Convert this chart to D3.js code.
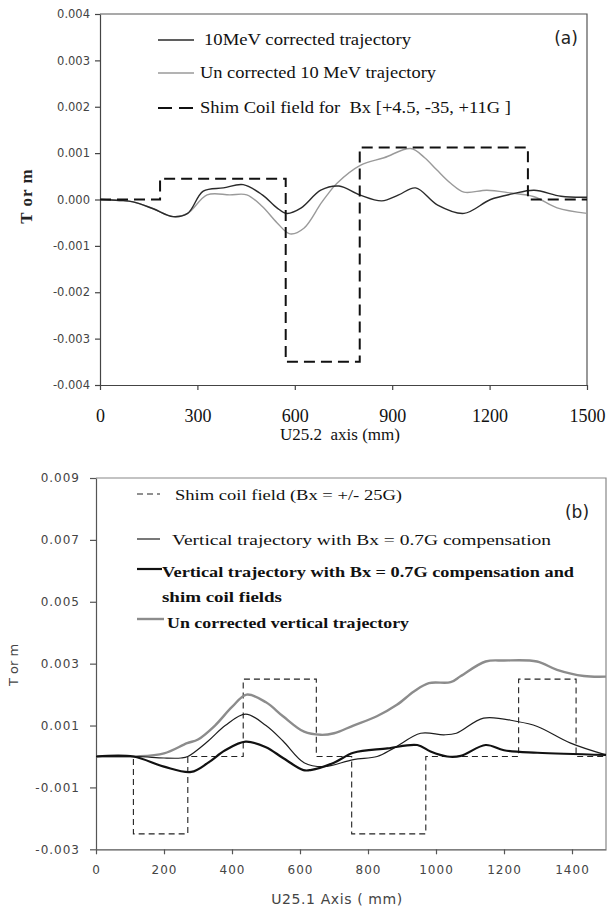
<!DOCTYPE html>
<html lang="en">
<head>
<meta charset="UTF-8">
<title>Shim coil field and trajectories</title>
<script src="https://d3js.org/d3.v7.min.js"></script>
<style>
  body { margin: 0; background: #fff; }
  svg { display: block; }
</style>
</head>
<body>
<svg id="chart" width="608" height="912"></svg>
<script>
// ---------- panel (a) data (values in units of 1e-3) ----------
const aShimX = [0, 185, 185, 572, 572, 800, 800, 1318, 1318, 1500];
const aShimY = [0, 0, 0.45, 0.45, -3.5, -3.5, 1.12, 1.12, 0, 0];

const aCorrX = [0, 60, 102, 164, 225, 270, 318, 380, 441, 500, 545, 575, 620, 680, 736, 800, 868, 920, 972, 1040, 1121, 1203, 1270, 1337, 1420, 1500];
const aCorrY = [0, -0.02, -0.05, -0.2, -0.37, -0.3, 0.18, 0.25, 0.32, 0.1, -0.18, -0.3, -0.18, 0.2, 0.29, 0.1, -0.03, 0.1, 0.25, -0.12, -0.3, 0.0, 0.12, 0.2, 0.07, 0.05];

const aUncX = [0, 60, 102, 164, 225, 270, 330, 400, 452, 500, 545, 585, 628, 679, 700, 730, 803, 875, 957, 1000, 1037, 1080, 1121, 1192, 1265, 1337, 1408, 1500];
const aUncY = [0, -0.02, -0.05, -0.2, -0.37, -0.3, 0.1, 0.1, 0.1, -0.15, -0.5, -0.74, -0.62, -0.1, 0.1, 0.35, 0.74, 0.9, 1.1, 0.9, 0.64, 0.35, 0.16, 0.2, 0.14, 0.06, -0.18, -0.3];

const aXTicks = [0, 300, 600, 900, 1200, 1500];
const aYTicks = [-4, -3, -2, -1, 0, 1, 2, 3, 4];

// ---------- panel (b) data (values in units of 1e-3) ----------
const bShimX = [0, 110, 110, 270, 270, 433, 433, 648, 648, 752, 752, 970, 970, 1243, 1243, 1412, 1412, 1500];
const bShimY = [0, 0, -2.5, -2.5, 0, 0, 2.5, 2.5, 0, 0, -2.5, -2.5, 0, 0, 2.5, 2.5, 0, 0];

const bUncX = [0, 60, 120, 200, 268, 300, 350, 400, 443, 500, 550, 612, 661, 700, 757, 826, 885, 935, 979, 1043, 1073, 1146, 1200, 1297, 1356, 1435, 1500];
const bUncY = [0, 0, 0, 0.1, 0.43, 0.55, 1.0, 1.6, 2.0, 1.75, 1.3, 0.8, 0.7, 0.75, 1.0, 1.3, 1.67, 2.1, 2.37, 2.4, 2.6, 3.07, 3.1, 3.07, 2.8, 2.6, 2.58];

const bCompX = [0, 120, 200, 250, 270, 330, 380, 440, 500, 550, 612, 670, 757, 827, 876, 955, 1023, 1060, 1140, 1239, 1298, 1396, 1500];
const bCompY = [0, 0, -0.05, -0.05, 0, 0.5, 1.0, 1.37, 1.0, 0.5, -0.2, -0.33, -0.1, 0, 0.27, 0.75, 0.7, 0.75, 1.24, 1.13, 0.97, 0.43, 0.05];

const bShimTrajX = [0, 110, 200, 280, 330, 380, 440, 500, 550, 610, 631, 700, 757, 857, 945, 984, 1033, 1073, 1146, 1200, 1298, 1500];
const bShimTrajY = [0, 0, -0.33, -0.5, -0.2, 0.2, 0.48, 0.3, -0.05, -0.44, -0.44, -0.2, 0.12, 0.26, 0.37, 0.16, 0, 0.02, 0.37, 0.2, 0.12, 0.05];

const bXTicks = [0, 200, 400, 600, 800, 1000, 1200, 1400];
const bYTicks = [-3, -1, 1, 3, 5, 7, 9];

const SERIF = '"Liberation Serif", "Times New Roman", serif';
const SANS = '"DejaVu Sans", Verdana, sans-serif';
const fmtY = d => d3.format(".3f")(d / 1000).replace("\u2212", "-");

const svg = d3.select("#chart");
svg.append("rect").attr("width", 608).attr("height", 912).attr("fill", "#fff");

const toPts = (xs, ys) => xs.map((x, i) => [x, ys[i]]);

function styleText(sel, family, size, fill) {
  return sel.style("font-family", family).style("font-size", size + "px").attr("fill", fill);
}

// ================= panel (a) =================
const ax = d3.scaleLinear().domain([0, 1500]).range([100, 587]);
const ay = d3.scaleLinear().domain([-4, 4]).range([385, 14]);
const ga = svg.append("g");

// frame
ga.append("path")
  .attr("d", `M${ax(0)},${ay(4)}H${ax(1500)}V${ay(-4)}`)
  .attr("fill", "none").attr("stroke", "#555").attr("stroke-width", 1.2);

const aXAxis = ga.append("g").attr("transform", `translate(0,${ay(-4)})`)
  .call(d3.axisBottom(ax).tickValues(aXTicks).tickSize(5).tickSizeOuter(0).tickPadding(19)
    .tickFormat(d => String(d)));
styleText(aXAxis.selectAll("text"), SERIF, 18, "#111");

const aYAxis = ga.append("g").attr("transform", `translate(${ax(0)},0)`)
  .call(d3.axisLeft(ay).tickValues(aYTicks).tickSize(5).tickSizeOuter(0).tickPadding(5)
    .tickFormat(fmtY));
styleText(aYAxis.selectAll("text"), SANS, 11.5, "#444");
[aXAxis, aYAxis].forEach(g => {
  g.select(".domain").attr("stroke", "#444").attr("stroke-width", 1.2);
  g.selectAll(".tick line").attr("stroke", "#444").attr("stroke-width", 1.2);
});

const aLine = d3.line().x(d => ax(d[0])).y(d => ay(d[1]));
const aSmooth = d3.line().x(d => ax(d[0])).y(d => ay(d[1])).curve(d3.curveCatmullRom.alpha(0.5));

ga.append("path").datum(toPts(aUncX, aUncY)).attr("d", aSmooth)
  .attr("fill", "none").attr("stroke", "#9a9a9a").attr("stroke-width", 1.4);
ga.append("path").datum(toPts(aCorrX, aCorrY)).attr("d", aSmooth)
  .attr("fill", "none").attr("stroke", "#2a2a2a").attr("stroke-width", 1.4);
ga.append("path").datum(toPts(aShimX, aShimY)).attr("d", aLine)
  .attr("fill", "none").attr("stroke", "#111").attr("stroke-width", 2)
  .attr("stroke-dasharray", "11,6");

// legend (a)
const aLeg = [
  { label: "10MeV corrected trajectory", y: 40, x: 204, stroke: "#2a2a2a", w: 1.4, dash: null, len: 207 },
  { label: "Un corrected 10 MeV trajectory", y: 73, x: 200, stroke: "#9a9a9a", w: 1.4, dash: null, len: 236 },
  { label: "Shim Coil field for  Bx [+4.5, -35, +11G ]", y: 108, x: 200, stroke: "#111", w: 2, dash: "14,7", len: 311 }
];
aLeg.forEach(d => {
  ga.append("line").attr("x1", 158).attr("x2", 194).attr("y1", d.y).attr("y2", d.y)
    .attr("stroke", d.stroke).attr("stroke-width", d.w).attr("stroke-dasharray", d.dash);
  styleText(ga.append("text"), SERIF, 17, "#111").attr("x", d.x).attr("y", d.y + 5)
    .attr("textLength", d.len).attr("lengthAdjust", "spacingAndGlyphs")
    .style("white-space", "pre").text(d.label);
});
styleText(ga.append("text"), SANS, 17, "#222").attr("x", 566).attr("y", 44)
  .attr("text-anchor", "middle").text("(a)");

styleText(ga.append("text"), SERIF, 17, "#111").attr("x", 340).attr("y", 440)
  .attr("text-anchor", "middle").style("white-space", "pre").text("U25.2  axis (mm)");
styleText(ga.append("text"), SERIF, 17, "#222").attr("transform", `translate(32,196) rotate(-90)`)
  .attr("text-anchor", "middle").style("font-weight", "bold").attr("letter-spacing", 1)
  .text("T or m");

// ================= panel (b) =================
const bx = d3.scaleLinear().domain([0, 1500]).range([96, 606]);
const by = d3.scaleLinear().domain([-3, 9]).range([849.3, 478]);
const gb = svg.append("g");

gb.append("path")
  .attr("d", `M${bx(0)},${by(9)}H${bx(1500)}V${by(-3)}`)
  .attr("fill", "none").attr("stroke", "#888").attr("stroke-width", 1.2);

const bXAxis = gb.append("g").attr("transform", `translate(0,${by(-3)})`)
  .call(d3.axisBottom(bx).tickValues(bXTicks).tickSize(5).tickSizeOuter(0).tickPadding(11)
    .tickFormat(d => String(d)));
const bYAxis = gb.append("g").attr("transform", `translate(${bx(0)},0)`)
  .call(d3.axisLeft(by).tickValues(bYTicks).tickSize(6).tickSizeOuter(0).tickPadding(10)
    .tickFormat(fmtY));
[bXAxis, bYAxis].forEach(g => {
  g.select(".domain").attr("stroke", "#555").attr("stroke-width", 1.2);
  g.selectAll(".tick line").attr("stroke", "#555").attr("stroke-width", 1.2);
  styleText(g.selectAll("text"), SANS, 12, "#444").attr("letter-spacing", 1);
});

const bLine = d3.line().x(d => bx(d[0])).y(d => by(d[1]));
const bSmooth = d3.line().x(d => bx(d[0])).y(d => by(d[1])).curve(d3.curveCatmullRom.alpha(0.5));

gb.append("path").datum(toPts(bShimX, bShimY)).attr("d", bLine)
  .attr("fill", "none").attr("stroke", "#222").attr("stroke-width", 1.1)
  .attr("stroke-dasharray", "6,4");
gb.append("path").datum(toPts(bUncX, bUncY)).attr("d", bSmooth)
  .attr("fill", "none").attr("stroke", "#8c8c8c").attr("stroke-width", 2.4);
gb.append("path").datum(toPts(bCompX, bCompY)).attr("d", bSmooth)
  .attr("fill", "none").attr("stroke", "#1e1e1e").attr("stroke-width", 1.2);
gb.append("path").datum(toPts(bShimTrajX, bShimTrajY)).attr("d", bSmooth)
  .attr("fill", "none").attr("stroke", "#111").attr("stroke-width", 2.2);

// legend (b)
const bLeg = [
  { label: "Shim coil field (Bx = +/- 25G)", y: 495, ly: 494, x: 175, x2: 160, stroke: "#222", w: 1.1, dash: "6,4", len: 227, bold: false },
  { label: "Vertical trajectory with Bx = 0.7G compensation", y: 540, ly: 539, x: 172, x2: 160, stroke: "#1e1e1e", w: 1.2, dash: null, len: 379, bold: false },
  { label: "Vertical trajectory with Bx = 0.7G compensation and", y: 572, ly: 569, x: 162, x2: 162, stroke: "#111", w: 2.2, dash: null, len: 412, bold: true },
  { label: "Un corrected vertical trajectory", y: 623, ly: 619, x: 167, x2: 164, stroke: "#8c8c8c", w: 2.4, dash: null, len: 242, bold: true }
];
bLeg.forEach(d => {
  gb.append("line").attr("x1", 137).attr("x2", d.x2).attr("y1", d.ly).attr("y2", d.ly)
    .attr("stroke", d.stroke).attr("stroke-width", d.w).attr("stroke-dasharray", d.dash);
  styleText(gb.append("text"), SERIF, 15.5, "#111").attr("x", d.x).attr("y", d.y + 5)
    .style("font-weight", d.bold ? "bold" : "normal")
    .attr("textLength", d.len).attr("lengthAdjust", "spacingAndGlyphs").text(d.label);
});
styleText(gb.append("text"), SERIF, 15.5, "#111").attr("x", 162).attr("y", 602)
  .style("font-weight", "bold")
  .attr("textLength", 120).attr("lengthAdjust", "spacingAndGlyphs").text("shim coil fields");

styleText(gb.append("text"), SANS, 17, "#222").attr("x", 577).attr("y", 518)
  .attr("text-anchor", "middle").text("(b)");

styleText(gb.append("text"), SANS, 14, "#444").attr("x", 337).attr("y", 904)
  .attr("text-anchor", "middle").attr("letter-spacing", 0.6).text("U25.1 Axis ( mm)");
styleText(gb.append("text"), SANS, 13, "#444").attr("transform", `translate(18,665) rotate(-90)`)
  .attr("text-anchor", "middle").text("T or m");
</script>
</body>
</html>
